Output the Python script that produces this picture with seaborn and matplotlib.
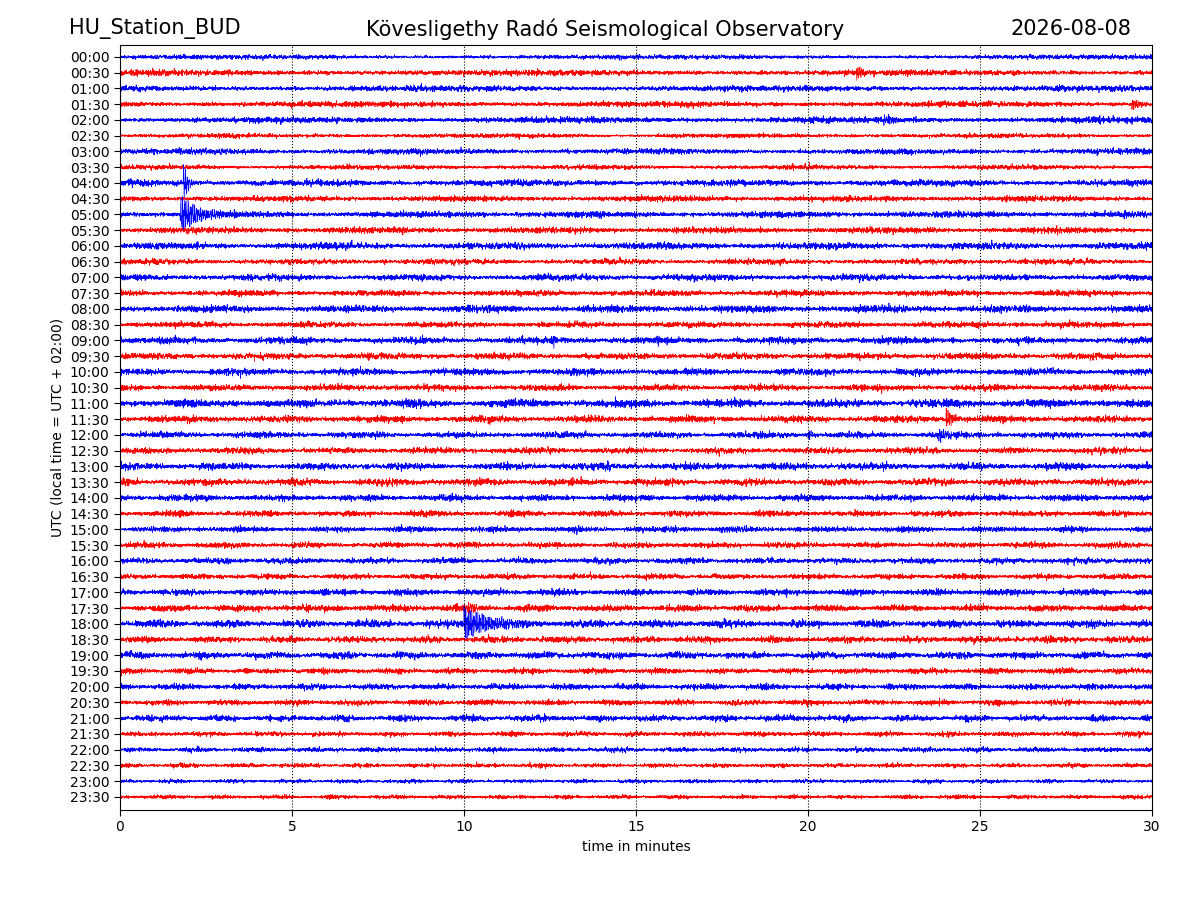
import numpy as np
import seaborn as sns
import matplotlib.pyplot as plt

# half-hour rows 00:00 .. 23:30
row_labels = [f"{h:02d}:{m:02d}" for h in range(24) for m in (0, 30)]
# background noise level per row (in row-spacing units), read by eye
row_noise = [0.20, 0.24, 0.26, 0.24, 0.24, 0.21, 0.25, 0.22, 0.27, 0.25,
             0.30, 0.27, 0.30, 0.27, 0.27, 0.27, 0.30, 0.27, 0.29, 0.27,
             0.32, 0.29, 0.33, 0.29, 0.28, 0.29, 0.30, 0.30, 0.27, 0.27,
             0.27, 0.26, 0.26, 0.26, 0.29, 0.27, 0.33, 0.29, 0.30, 0.28,
             0.27, 0.24, 0.27, 0.24, 0.22, 0.20, 0.19, 0.17]
# events: (row index, start minute, duration min, peak amplitude)
event_rows = [8, 10, 36, 35, 23, 24, 1, 3, 18, 4, 24]
event_start = [1.85, 1.75, 10.0, 10.1, 24.0, 23.8, 21.4, 29.4, 12.6, 22.2, 20.0]
event_dur = [0.3, 1.4, 2.0, 0.5, 0.6, 0.9, 0.5, 0.7, 0.2, 1.0, 0.4]
event_amp = [1.5, 1.3, 1.1, 0.45, 0.75, 0.45, 0.45, 0.45, 0.5, 0.3, 0.35]

n = 6000
t = np.linspace(0, 30, n)


def trace(i):
    # deterministic pseudo-noise from many incommensurate sines
    y = np.zeros(n)
    for k in range(1, 90):
        f = 61.3 * k * (1 + 0.113 * np.sin(k * 1.7 + i))
        y += np.sin(f * t + k * 2.39 + i * 0.71) * (1.0 + 0.5 * np.sin(k * 0.37 + i))
    y = y / np.abs(y).max() * row_noise[i]
    y *= 1 + 0.3 * np.sin(t * (0.5 + 0.07 * i) + i)
    for r, s, d, a in zip(event_rows, event_start, event_dur, event_amp):
        if r == i:
            env = np.where(t >= s, np.exp(-(t - s) / (d / 2.5)), 0)
            y += a * env * np.sin(t * 180.0 + i) * np.cos(t * 71.0)
    return y


sns.set_style("ticks")
plt.rcParams.update({"text.color": "black", "axes.labelcolor": "black",
                     "xtick.color": "black", "ytick.color": "black"})
fig = plt.figure(figsize=(12, 9), dpi=100)
ax = fig.add_axes([0.1, 0.1, 0.86, 0.85])
for i in range(len(row_labels)):
    ax.plot(t, trace(i) - i, color="blue" if i % 2 == 0 else "red", lw=0.5)

ax.set_xlim(0, 30)
ax.set_ylim(-47.83, 0.76)
ax.set_xticks(range(0, 31, 5))
ax.set_yticks([-i for i in range(len(row_labels))])
ax.set_yticklabels(row_labels)
ax.tick_params(direction="out", length=4, labelsize=10)
for x in range(5, 30, 5):
    ax.axvline(x, color="black", ls=":", lw=0.8)
for s in ax.spines.values():
    s.set_color("black")
ax.set_xlabel("time in minutes")
ax.set_ylabel("UTC (local time = UTC + 02:00)")

fig.text(0.0575, 0.968, "HU_Station_BUD", fontsize=15, va="center")
fig.text(0.504, 0.968, "Kövesligethy Radó Seismological Observatory", fontsize=15, ha="center", va="center")
fig.text(0.943, 0.968, "2026-08-08", fontsize=15, ha="right", va="center")

fig.savefig("out.png", dpi=100)
